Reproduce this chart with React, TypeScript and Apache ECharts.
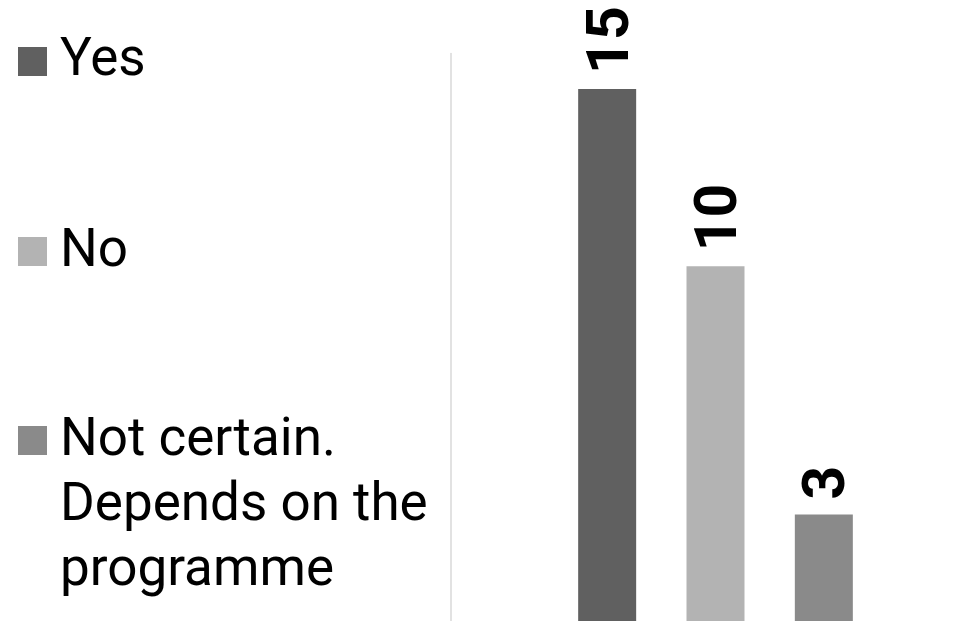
import React, { useEffect, useRef } from "react";
import * as echarts from "echarts";

// Survey answers and the number of respondents for each
const categories = ["Yes", "No", "Not certain.\nDepends on the\nprogramme"];
const counts = [15, 10, 3];
const barColors = ["#606060", "#b3b3b3", "#8a8a8a"];

// Legend layout (left column)
const legendIconTops = [47, 237, 426];
const legendTextTops = [24.5, 215.5, 404];

export default function App() {
  const ref = useRef<HTMLDivElement>(null);

  useEffect(() => {
    if (!ref.current) return;
    const chart = echarts.init(ref.current, undefined, { renderer: "svg" });

    const legendGraphics: any[] = [];
    categories.forEach((name, i) => {
      legendGraphics.push({
        type: "rect",
        left: 18,
        top: legendIconTops[i],
        shape: { width: 29, height: 29 },
        style: { fill: barColors[i] },
      });
      legendGraphics.push({
        type: "text",
        left: 60,
        top: legendTextTops[i],
        style: {
          text: name,
          fill: "#000000",
          font: "53px Roboto",
          lineHeight: 65,
        },
      });
    });

    chart.setOption({
      animation: false,
      backgroundColor: "#ffffff",
      grid: { left: 553, right: 91, top: 53.4, bottom: -2 },
      xAxis: {
        type: "category",
        data: categories,
        axisLine: { show: false },
        axisTick: { show: false },
        axisLabel: { show: false },
        splitLine: { show: false },
      },
      yAxis: {
        type: "value",
        min: 0,
        max: 16,
        offset: 102,
        axisLine: { show: true, lineStyle: { color: "#d9d9d9", width: 1.5 } },
        axisTick: { show: false },
        axisLabel: { show: false },
        splitLine: { show: false },
      },
      series: [
        {
          type: "bar",
          barWidth: 58,
          data: counts.map((v, i) => ({ value: v, itemStyle: { color: barColors[i] } })),
          label: {
            show: true,
            position: "top",
            rotate: 90,
            align: "left",
            verticalAlign: "middle",
            distance: 15,
            color: "#000000",
            fontFamily: "Roboto",
            fontWeight: "bold",
            fontSize: 59,
          },
        },
      ],
      graphic: legendGraphics,
    });

    return () => chart.dispose();
  }, []);

  return (
    <div
      ref={ref}
      style={{ position: "absolute", left: 0, top: 0, width: 969, height: 621 }}
    />
  );
}
